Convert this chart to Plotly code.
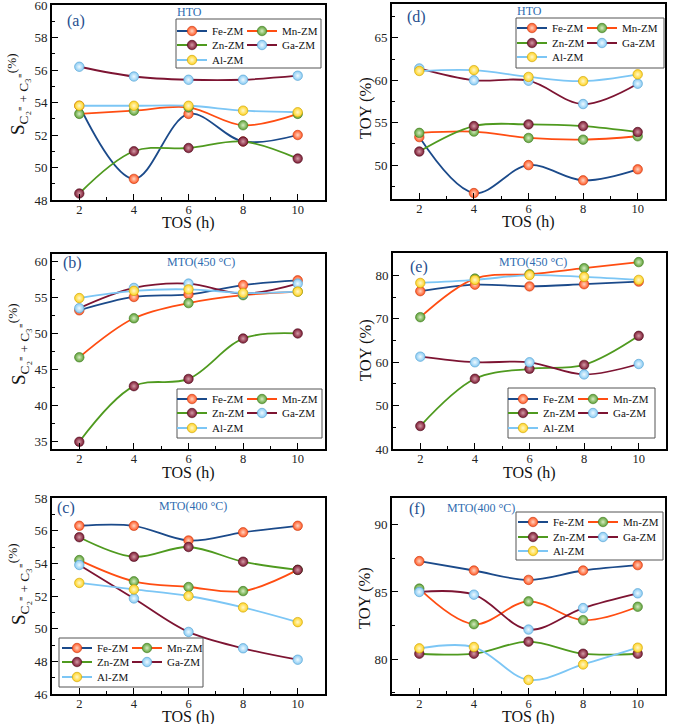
import plotly.graph_objects as go

W, H = 685, 724

tos = [2, 4, 6, 8, 10]
series = ["Fe-ZM", "Mn-ZM", "Zn-ZM", "Ga-ZM", "Al-ZM"]

# (a) HTO, olefin selectivity
a_fe = [53.8, 49.3, 53.3, 51.6, 52.0]
a_mn = [53.3, 53.5, 53.7, 52.6, 53.3]
a_zn = [48.4, 51.0, 51.2, 51.6, 50.55]
a_ga = [56.2, 55.6, 55.4, 55.4, 55.65]
a_al = [53.8, 53.8, 53.8, 53.5, 53.4]

# (d) HTO, TOY
d_fe = [53.3, 46.7, 50.0, 48.2, 49.5]
d_mn = [53.8, 53.95, 53.2, 53.0, 53.4]
d_zn = [51.6, 54.6, 54.8, 54.6, 53.9]
d_ga = [61.4, 60.0, 59.95, 57.2, 59.6]
d_al = [61.1, 61.2, 60.4, 59.9, 60.7]

# (b) MTO 450 C, olefin selectivity
b_fe = [53.2, 55.05, 55.4, 56.7, 57.35]
b_mn = [46.7, 52.1, 54.2, 55.3, 55.8]
b_zn = [35.0, 42.7, 43.7, 49.3, 50.0]
b_ga = [53.5, 56.3, 56.9, 55.5, 56.9]
b_al = [54.9, 55.9, 56.1, 55.6, 55.8]

# (e) MTO 450 C, TOY
e_fe = [76.4, 77.9, 77.5, 78.0, 78.6]
e_mn = [70.4, 79.3, 80.3, 81.7, 83.1]
e_zn = [45.3, 56.2, 58.5, 59.4, 66.1]
e_ga = [61.3, 60.0, 60.0, 57.2, 59.6]
e_al = [78.3, 79.0, 80.1, 79.7, 79.0]

# (c) MTO 400 C, olefin selectivity
c_fe = [56.3, 56.3, 55.4, 55.9, 56.3]
c_mn = [54.2, 52.9, 52.55, 52.3, 53.6]
c_zn = [55.6, 54.4, 55.0, 54.1, 53.6]
c_ga = [53.9, 51.85, 49.8, 48.8, 48.1]
c_al = [52.8, 52.4, 52.0, 51.3, 50.4]

# (f) MTO 400 C, TOY
f_fe = [87.3, 86.6, 85.9, 86.6, 87.0]
f_mn = [85.25, 82.6, 84.3, 82.9, 83.9]
f_zn = [80.4, 80.4, 81.3, 80.4, 80.4]
f_ga = [85.0, 84.8, 82.2, 83.8, 84.9]
f_al = [80.8, 80.9, 78.45, 79.6, 80.85]

line_colors = ["#1b4a8a", "#ff4d12", "#4f9a1f", "#7d1432", "#7cc6f5"]
marker_colors = ["#ff5522", "#5c9f35", "#7a1830", "#86c9f3", "#ffd21f"]
marker_centers = ["#ffd6c2", "#d6edc2", "#d49aa6", "#effaff", "#fff8cc"]
marker_edges = ["#c8380e", "#3f7a20", "#4e0c1c", "#4f9fd0", "#c9a000"]

SEL_TITLE = "S<sub>C₂⁼ + C₃⁼</sub><sup>(%)</sup>"
TOY_TITLE = "TOY (%)"
X_TITLE = "TOS (h)"

panels = [
    dict(data=[a_fe, a_mn, a_zn, a_ga, a_al], yr=[48, 60], dt=2, mdt=1, yt=SEL_TITLE,
         lab="(a)", tag="HTO", px=(52, 325), py=(5, 200), ytxy=(18, 94), xt_off=23.5,
         labxy=(76, 21), tagxy=(189, 12), legx=172, rows=(31, 45, 60), box=(176, 321, 19, 68)),
    dict(data=[d_fe, d_mn, d_zn, d_ga, d_al], yr=[46, 69], dt=5, mdt=2.5, yt=TOY_TITLE,
         lab="(d)", tag="HTO", px=(392, 665), py=(4, 199), ytxy=(366, 108), xt_off=23.5,
         labxy=(416, 17), tagxy=(529, 11), legx=512, rows=(28, 43, 57), box=(516, 664, 18, 68)),
    dict(data=[b_fe, b_mn, b_zn, b_ga, b_al], yr=[34, 61], dt=5, mdt=2.5, yt=SEL_TITLE,
         lab="(b)", tag="MTO(450 °C)", px=(52, 325), py=(254, 449), ytxy=(18, 344), xt_off=23.5,
         labxy=(72, 263), tagxy=(201, 262), legx=172, rows=(399, 413, 428), box=(177, 322, 389, 438)),
    dict(data=[e_fe, e_mn, e_zn, e_ga, e_al], yr=[40, 85.2], dt=10, mdt=5, yt=TOY_TITLE,
         lab="(e)", tag="MTO(450 °C)", px=(393, 666), py=(253, 449), ytxy=(366, 350), xt_off=23.5,
         labxy=(419, 267), tagxy=(533, 262), legx=503, rows=(399, 413, 428), box=(508, 655, 388, 438)),
    dict(data=[c_fe, c_mn, c_zn, c_ga, c_al], yr=[46, 58], dt=2, mdt=1, yt=SEL_TITLE,
         lab="(c)", tag="MTO(400 °C)", px=(52, 325), py=(498, 694), ytxy=(18, 584), xt_off=22.5,
         labxy=(66, 508), tagxy=(193, 506), legx=57, rows=(648, 662, 677), box=(59, 203, 638, 687)),
    dict(data=[f_fe, f_mn, f_zn, f_ga, f_al], yr=[77.4, 92], dt=5, mdt=2.5, yt=TOY_TITLE,
         lab="(f)", tag="MTO(400 °C)", px=(392, 665), py=(498, 694), ytxy=(364, 598), xt_off=22.5,
         labxy=(417, 509), tagxy=(481, 508), legx=513, rows=(522, 537, 551), box=(516, 663, 512, 560)),
]

row_of_series = [0, 0, 1, 1, 2]
col_of_series = [0, 1, 0, 1, 0]
COL_STEP = 70

SERIF = "Liberation Serif"

fig = go.Figure()
layout = dict(width=W, height=H, margin=dict(l=0, r=0, t=0, b=0, autoexpand=False),
              paper_bgcolor="white", plot_bgcolor="white", showlegend=True,
              font=dict(family=SERIF, color="#111"))
annotations = []
shapes = []


def px2x(p):
    return p / W


def py2y(p):
    return 1 - p / H


for i, p in enumerate(panels):
    k = "" if i == 0 else str(i + 1)
    xa, ya = "x" + k, "y" + k
    for s in range(5):
        leg_idx = i * 5 + s + 1
        leg = "legend" if leg_idx == 1 else "legend%d" % leg_idx
        fig.add_trace(go.Scatter(
            x=tos, y=p["data"][s], name=series[s], mode="lines+markers",
            xaxis=xa, yaxis=ya, legend=leg,
            line=dict(color=line_colors[s], width=1.8, shape="spline", smoothing=1),
            marker=dict(size=9.5, color=marker_colors[s],
                        gradient=dict(type="radial", color=marker_centers[s]),
                        line=dict(color=marker_edges[s], width=0.6)),
        ))
        layout[leg] = dict(x=px2x(p["legx"] + COL_STEP * col_of_series[s]),
                           y=py2y(p["rows"][row_of_series[s]]),
                           xanchor="left", yanchor="middle",
                           bgcolor="rgba(0,0,0,0)", borderwidth=0,
                           font=dict(family=SERIF, size=11, color="#111"))
    x0, x1 = px2x(p["px"][0]), px2x(p["px"][1])
    y0, y1 = py2y(p["py"][1]), py2y(p["py"][0])
    axis_common = dict(showline=True, linewidth=2, linecolor="black", mirror=True,
                       ticks="inside", ticklen=6, tickwidth=1.3, tickcolor="black",
                       showgrid=False, zeroline=False, automargin=False,
                       ticklabeloverflow="allow",
                       tickfont=dict(family=SERIF, size=13, color="#222"))
    layout["xaxis" + k] = dict(axis_common, domain=[x0, x1], anchor=ya, range=[1, 11],
                               tickmode="linear", tick0=0, dtick=2, ticklabelstandoff=-3,
                               tickfont=dict(family=SERIF, size=12.5, color="#222"),
                               minor=dict(ticks="inside", ticklen=3, tickwidth=1.2, dtick=1, tick0=0,
                                          tickcolor="black"))
    layout["yaxis" + k] = dict(axis_common, domain=[y0, y1], anchor=xa, range=p["yr"],
                               tickmode="linear", tick0=0, dtick=p["dt"],
                               minor=dict(ticks="inside", ticklen=3, tickwidth=1.2, dtick=p["mdt"], tick0=0,
                                          tickcolor="black"))
    # axis titles
    annotations.append(dict(text=X_TITLE, x=(x0 + x1) / 2, y=py2y(p["py"][1] + p["xt_off"]),
                            xref="paper", yref="paper", showarrow=False, xanchor="center", yanchor="middle",
                            font=dict(family=SERIF, size=16, color="#111")))
    annotations.append(dict(text=p["yt"], x=px2x(p["ytxy"][0]), y=py2y(p["ytxy"][1]), textangle=-90,
                            xref="paper", yref="paper", showarrow=False, xanchor="center", yanchor="middle",
                            font=dict(family=SERIF, size=19 if p["yt"] == SEL_TITLE else 16.5, color="#111")))
    annotations.append(dict(text=p["lab"], x=px2x(p["labxy"][0]), y=py2y(p["labxy"][1]),
                            xref="paper", yref="paper", showarrow=False, xanchor="center", yanchor="middle",
                            font=dict(family=SERIF, size=16, color="#27508f")))
    annotations.append(dict(text=p["tag"], x=px2x(p["tagxy"][0]), y=py2y(p["tagxy"][1]),
                            xref="paper", yref="paper", showarrow=False, xanchor="center", yanchor="middle",
                            font=dict(family=SERIF, size=12, color="#2f6cb0")))
    bx = p["box"]
    shapes.append(dict(type="rect", xref="paper", yref="paper", layer="above",
                       x0=px2x(bx[0]), x1=px2x(bx[1]), y0=py2y(bx[3]), y1=py2y(bx[2]),
                       fillcolor="white", line=dict(color="#555", width=1)))

layout["annotations"] = annotations
layout["shapes"] = shapes
fig.update_layout(**layout)
fig.write_html("out.html", config={"displayModeBar": False},
               post_script="document.body.style.margin='0';document.body.style.padding='0';"
                           "document.documentElement.style.overflow='hidden';")
